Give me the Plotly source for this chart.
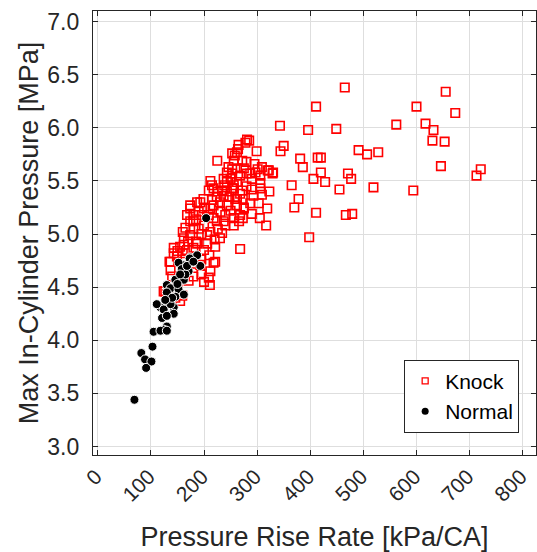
import plotly.graph_objects as go

# ---------------- data ----------------
knock_x = [
    465, 411, 655, 600, 673, 343, 396, 449, 562, 617, 632, 630, 653, 491, 507, 528,
    414, 420, 381, 386, 420, 471, 477, 406, 428, 455, 519, 594, 646, 713, 721, 378,
    411, 467, 479, 398, 350, 344, 365, 370, 329, 320, 299, 285, 281, 225,
    278, 265, 264, 253, 258, 262, 256, 272, 280, 295, 301, 309, 322, 330, 246, 253,
    243, 253, 280, 297, 306, 237, 250, 287, 268, 262, 275, 290,
    243, 238, 256, 212, 215, 218, 226, 234, 237, 243, 262, 272, 273, 259, 253, 306,
    306, 323, 309, 293, 209, 224, 215, 256, 262, 199, 187, 193, 280, 290, 230, 248, 268,
    287, 303, 319, 275, 290, 305, 317, 273, 256, 237, 231, 218, 209, 180, 174, 168,
    174, 243, 218, 212, 174, 196, 180, 224, 275, 266, 268, 250, 200, 190, 185, 262, 240,
    256, 190, 206, 174, 162, 212, 226, 234, 180, 165, 195, 220, 185, 170, 240, 160,
    200, 187, 206, 162, 230,
    143, 155, 168, 180, 221, 149, 137, 221, 268, 135, 143, 160, 200, 210, 195, 165,
    180, 218, 150,
    137, 212, 209, 211, 171, 159, 124, 127, 155, 193, 146, 180, 195, 150, 160, 140, 200, 130,
]
knock_y = [
    6.38, 6.20, 6.34, 6.20, 6.14, 6.02, 5.98, 5.99, 6.03, 6.04, 5.98, 5.88, 5.87, 5.79, 5.75, 5.77,
    5.72, 5.72, 5.71, 5.63, 5.58, 5.57, 5.52, 5.52, 5.49, 5.42, 5.44, 5.41, 5.64, 5.55, 5.61, 5.33,
    5.20, 5.18, 5.19, 4.97, 5.83, 5.78, 5.46, 5.25, 5.57, 5.60, 5.78, 5.88, 5.89, 5.69,
    5.86, 5.84, 5.80, 5.76, 5.74, 5.77, 5.69, 5.69, 5.68, 5.66, 5.61, 5.63, 5.60, 5.58, 5.63, 5.61,
    5.58, 5.57, 5.57, 5.58, 5.55, 5.52, 5.52, 5.57, 5.55, 5.62, 5.62, 5.52,
    5.49, 5.46, 5.46, 5.50, 5.46, 5.43, 5.40, 5.41, 5.36, 5.40, 5.49, 5.41, 5.33, 5.33, 5.43, 5.48,
    5.43, 5.40, 5.37, 5.36, 5.41, 5.35, 5.32, 5.43, 5.33, 5.33, 5.30, 5.30, 5.45, 5.42, 5.30, 5.35, 5.38,
    5.29, 5.29, 5.24, 5.25, 5.19, 5.15, 5.08, 5.15, 5.15, 5.12, 5.21, 5.27, 5.18, 5.18, 5.24, 5.18,
    5.12, 5.27, 5.15, 5.24, 5.27, 5.18, 5.12, 5.12, 5.24, 5.12, 5.18, 5.22, 5.24, 5.21, 5.14, 5.27, 5.18,
    5.08, 5.05, 4.99, 4.99, 4.96, 5.02, 5.05, 5.01, 5.05, 5.06, 5.00, 4.95, 4.93, 4.93, 5.08, 5.02,
    5.08, 4.91, 4.91, 4.90, 4.96,
    4.87, 4.88, 4.85, 4.87, 4.88, 4.79, 4.74, 4.74, 4.86, 4.74, 4.82, 4.82, 4.85, 4.80, 4.76, 4.76,
    4.72, 4.73, 4.84,
    4.66, 4.65, 4.59, 4.52, 4.56, 4.42, 4.46, 4.46, 4.37, 4.71, 4.40, 4.60, 4.62, 4.55, 4.62, 4.60, 4.55, 4.43,
]

normal_x = [
    204, 174, 187, 193, 159, 173, 152, 158, 171, 146, 162, 130, 137, 152, 162, 130,
    146, 137, 118, 133, 124, 143, 143, 121, 130, 124, 105, 118, 130, 111, 137, 130,
    103, 82, 89, 101, 91, 69, 165, 155, 150, 168, 180, 140, 127,
]
normal_y = [
    5.15, 4.78, 4.80, 4.70, 4.71, 4.77, 4.73, 4.67, 4.65, 4.57, 4.57, 4.52, 4.49, 4.48, 4.43, 4.45,
    4.41, 4.35, 4.31, 4.35, 4.29, 4.31, 4.25, 4.21, 4.13, 4.10, 4.08, 4.09, 4.09, 4.34, 4.34, 4.23,
    3.94, 3.88, 3.82, 3.80, 3.74, 3.44, 4.62, 4.62, 4.53, 4.70, 4.74, 4.40, 4.38,
]

x_ticks = [0, 100, 200, 300, 400, 500, 600, 700, 800]
y_ticks = [3.0, 3.5, 4.0, 4.5, 5.0, 5.5, 6.0, 6.5, 7.0]

# ---------------- figure ----------------
AX = "#262626"
FONT = "Liberation Sans, Arial, Helvetica, sans-serif"

fig = go.Figure()
fig.add_trace(go.Scatter(
    x=knock_x, y=knock_y, mode="markers", name="Knock", showlegend=False,
    marker=dict(symbol="square-open", size=8.5, color="#ff0000", line=dict(width=1.6, color="#ff0000")),
))
fig.add_trace(go.Scatter(
    x=normal_x, y=normal_y, mode="markers", name="Normal", showlegend=False,
    marker=dict(symbol="circle", size=9, color="#000000", line=dict(width=1, color="#ffffff")),
))
# legend entries (small markers, as in the reference)
fig.add_trace(go.Scatter(
    x=[None], y=[None], mode="markers", name="Knock",
    marker=dict(symbol="square-open", size=6, color="#ff0000", line=dict(width=1.3, color="#ff0000")),
))
fig.add_trace(go.Scatter(
    x=[None], y=[None], mode="markers", name="Normal",
    marker=dict(symbol="circle", size=7, color="#000000", line=dict(width=0)),
))

axis_common = dict(
    showline=True, linecolor=AX, linewidth=1.3, mirror="ticks",
    ticks="inside", ticklen=5, tickwidth=1.3, tickcolor=AX,
    showgrid=True, gridcolor="#dedede", gridwidth=1, zeroline=False,
    automargin=False, ticklabeloverflow="allow",
)

fig.update_layout(
    width=537, height=552,
    margin=dict(l=93, r=1, t=11, b=97),
    paper_bgcolor="white", plot_bgcolor="white",
    font=dict(family=FONT, color=AX),
    xaxis=dict(
        range=[-9, 825], tickvals=x_ticks, ticktext=[str(v) for v in x_ticks],
        tickangle=-45, tickfont=dict(family=FONT, size=21, color=AX),
        ticklabelshift=-2,
        title=dict(text="Pressure Rise Rate [kPa/CA]", font=dict(family=FONT, size=27, color=AX), standoff=22),
        **axis_common,
    ),
    yaxis=dict(
        range=[2.92, 7.10], tickvals=y_ticks, ticktext=[f"{v:.1f}" for v in y_ticks],
        tickfont=dict(family=FONT, size=23, color=AX),
        ticklabelstandoff=8,
        title=dict(text="Max In-Cylinder Pressure [MPa]", font=dict(family=FONT, size=27, color=AX), standoff=0),
        **axis_common,
    ),
    legend=dict(
        x=0.962, xanchor="right", y=0.05, yanchor="bottom",
        bgcolor="white", bordercolor=AX, borderwidth=1,
        font=dict(family=FONT, size=21, color="#000000"),
        tracegroupgap=0,
    ),
)

fig.write_html(
    "out.html",
    config={"displayModeBar": False},
    post_script="document.body.style.margin='0';document.body.style.overflow='hidden';",
)
